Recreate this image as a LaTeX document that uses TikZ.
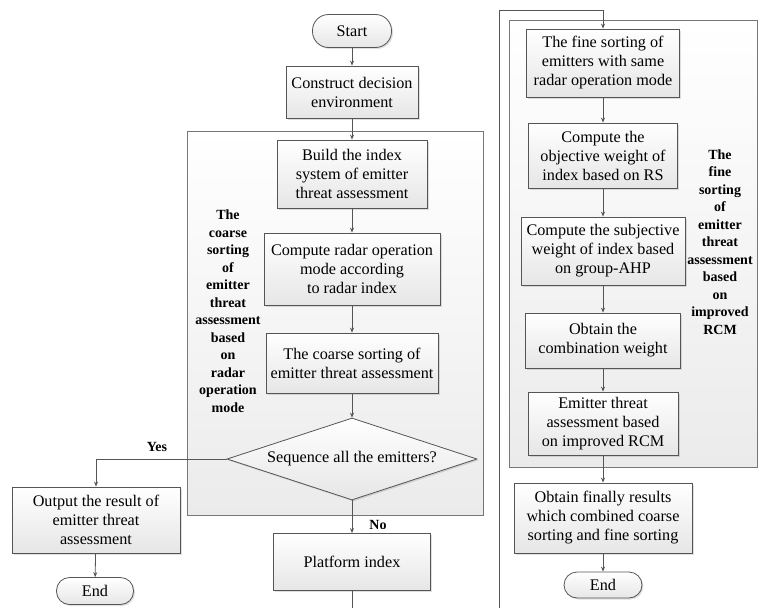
\documentclass[tikz,border=0pt]{standalone}
\usepackage{fontspec}
\setmainfont{Liberation Serif}
\usetikzlibrary{shapes.geometric,shadows,arrows.meta}
\definecolor{edgec}{HTML}{555555}
\definecolor{boxbot}{HTML}{E6E6E6}
\definecolor{contbot}{HTML}{EBEBEB}
\tikzset{
  base/.style={draw=edgec, line width=0.8pt, top color=white, bottom color=boxbot,
    align=center, inner sep=0pt, font=\fontsize{16.2}{19}\selectfont,
    drop shadow={shadow xshift=1.5pt, shadow yshift=-1.5pt, opacity=0.25}},
  procbox/.style={base, rectangle},
  pill/.style={base, rectangle, rounded corners=13pt},
  decision/.style={base, diamond, aspect=3.05},
  container/.style={draw=edgec!80, line width=0.8pt, top color=white, bottom color=contbot,
    rectangle, inner sep=0pt},
  sidelabel/.style={align=center, inner sep=0pt, font=\fontsize{14}{17.5}\selectfont\bfseries},
  branchlabel/.style={inner sep=0pt, font=\fontsize{14}{16}\selectfont\bfseries},
  arr/.style={draw=edgec, line width=0.8pt, -{Stealth[length=5pt,width=4pt]}},
  ln/.style={draw=edgec, line width=0.8pt},
}
\begin{document}
\begin{tikzpicture}[x=1pt,y=-1pt]
\useasboundingbox (0,0) rectangle (758,608);
% containers
\node[container, minimum width=296pt, minimum height=384pt] (contL) at (335,323) {};
\node[container, minimum width=248pt, minimum height=447pt] (contR) at (633,243.5) {};
% left column
\node[pill, minimum width=79pt, minimum height=33pt, rounded corners=16pt] (start) at (352,31) {Start};
\node[procbox, minimum width=132pt, minimum height=52pt] (construct) at (352,92) {Construct decision\\environment};
\node[procbox, minimum width=150pt, minimum height=68pt] (build) at (352,174) {Build the index\\system of emitter\\threat assessment};
\node[procbox, minimum width=176pt, minimum height=72pt] (radar) at (352,269) {Compute radar operation\\mode according\\to radar index};
\node[procbox, minimum width=172pt, minimum height=60pt] (coarse) at (352,363) {The coarse sorting of\\emitter threat assessment};
\node[decision, minimum width=250pt, minimum height=82pt] (seq) at (352,459) {Sequence all the emitters?};
\node[procbox, minimum width=157pt, minimum height=57pt] (platform) at (352,562) {Platform index};
\node[procbox, minimum width=168pt, minimum height=66pt] (output) at (96,520) {Output the result of\\emitter threat\\assessment};
\node[pill, minimum width=77pt, minimum height=27pt] (endL) at (95,591) {End};
\node[sidelabel] (labL) at (228,311) {The\\coarse\\sorting\\of\\emitter\\threat\\assessment\\based\\on\\radar\\operation\\mode};
\node[branchlabel] (yes) at (157,447) {Yes};
\node[branchlabel] (no) at (378,525) {No};
% right column
\node[procbox, minimum width=153pt, minimum height=68pt] (fine) at (603,63) {The fine sorting of\\emitters with same\\radar operation mode};
\node[procbox, minimum width=149pt, minimum height=65pt] (objective) at (603,155.5) {Compute the\\objective weight of\\index based on RS};
\node[procbox, minimum width=164pt, minimum height=68pt] (subjective) at (603,251) {Compute the subjective\\weight of index based\\on group-AHP};
\node[procbox, minimum width=155pt, minimum height=55pt] (combination) at (603,340.5) {Obtain the\\combination weight};
\node[procbox, minimum width=150pt, minimum height=63pt] (emitter) at (603,423.5) {Emitter threat\\assessment based\\on improved RCM};
\node[procbox, minimum width=178pt, minimum height=70pt] (finally) at (603,518) {Obtain finally results\\which combined coarse\\sorting and fine sorting};
\node[pill, minimum width=78pt, minimum height=26pt] (endR) at (603,585) {End};
\node[sidelabel] (labR) at (720,242) {The\\fine\\sorting\\of\\emitter\\threat\\assessment\\based\\on\\improved\\RCM};
% connectors
\draw[arr] (start) -- (construct);
\draw[arr] (construct) -- (build);
\draw[arr] (build) -- (radar);
\draw[arr] (radar) -- (coarse);
\draw[arr] (coarse) -- (seq);
\draw[arr] (seq.south) -- (platform.north);
\draw[arr] (seq.west) -| (output.north);
\draw[arr] (output) -- (endL);
\coordinate (pb) at (352,608);
\draw[ln] (platform.south) -- (pb);
\coordinate (rb) at (499,608);
\coordinate (rt) at (499,10);
\draw[arr] (rb) -- (rt) -| (fine.north);
\draw[arr] (fine) -- (objective);
\draw[arr] (objective) -- (subjective);
\draw[arr] (subjective) -- (combination);
\draw[arr] (combination) -- (emitter);
\draw[arr] (emitter) -- (finally);
\draw[arr] (finally) -- (endR);
\end{tikzpicture}
\end{document}
